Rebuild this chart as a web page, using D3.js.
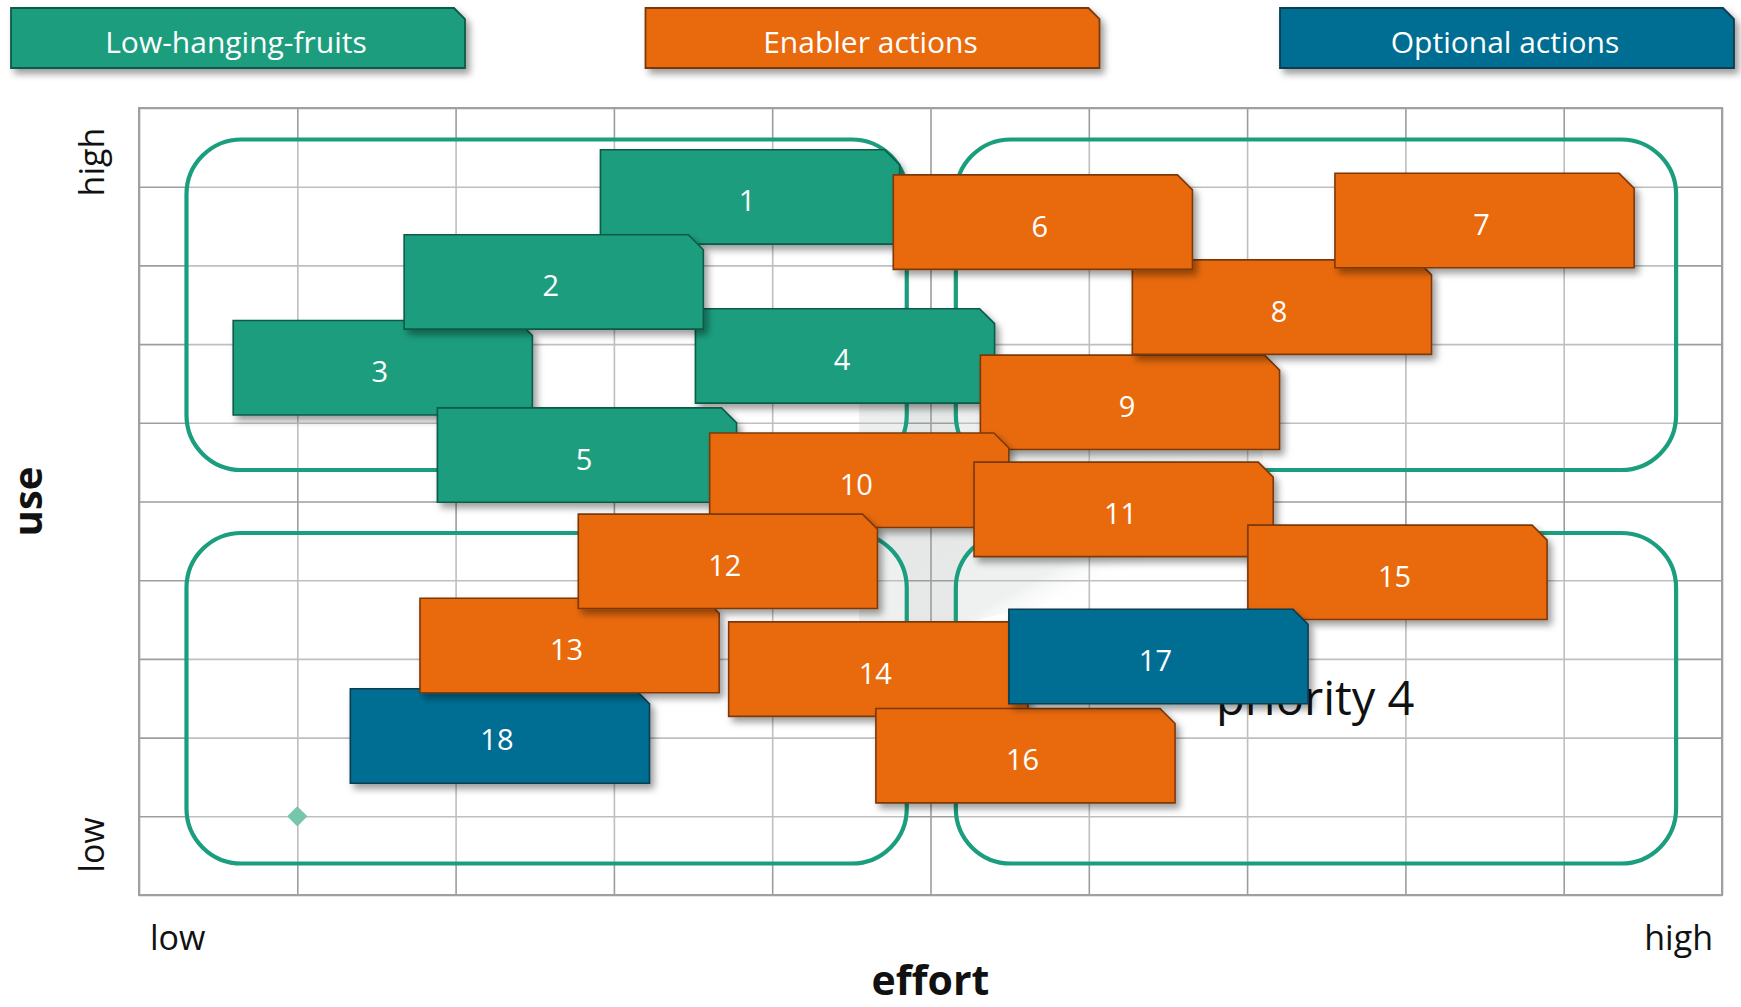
<!DOCTYPE html>
<html>
<head>
<meta charset="utf-8">
<script src="https://cdn.jsdelivr.net/npm/d3@7"></script>
<style>
  html, body { margin: 0; padding: 0; background: #ffffff; }
  svg { display: block; }
  text { font-family: "Open Sans", "Noto Sans", sans-serif; }
</style>
</head>
<body>
<svg id="chart" width="1741" height="1007"></svg>
<script>
// ---------------- data ----------------
const categories = ["Low-hanging-fruits", "Enabler actions", "Optional actions"];
const categoryColors = ["#1a9e7e", "#e96a0c", "#006e93"];
const categoryBorders = ["#0e5a47", "#7c3808", "#0a3c50"];

const actionIds = [1, 2, 3, 4, 5, 6, 7, 8, 9, 10, 11, 12, 13, 14, 15, 16, 17, 18];
const effort    = [3.86, 2.62, 1.54, 4.46, 2.83, 5.71, 8.50, 7.22, 6.26, 4.55, 6.22, 3.72, 2.72, 4.67, 7.95, 5.60, 6.44, 2.28];
const use       = [8.87, 7.79, 6.70, 6.85, 5.59, 8.55, 8.57, 7.47, 6.26, 5.27, 4.90, 4.24, 3.17, 2.87, 4.10, 1.77, 3.03, 2.02];
const actionCategory = [0, 0, 0, 0, 0, 1, 1, 1, 1, 1, 1, 1, 1, 1, 1, 1, 2, 2];
// stacking order (bottom first)
const drawOrder = [1, 3, 4, 18, 13, 14, 5, 9, 8, 6, 7, 2, 10, 11, 12, 15, 16, 17];

const xTicks = [0, 1, 2, 3, 4, 5, 6, 7, 8, 9, 10];
const yTicks = [0, 1, 2, 3, 4, 5, 6, 7, 8, 9, 10];
const axisLowHigh = ["low", "high"];
const xTitle = "effort";
const yTitle = "use";

// quadrant frames in data units
const quadX = [[0.30, 4.85], [5.16, 9.71]];
const quadY = [[0.40, 4.60], [5.40, 9.60]];
const quadLabel = "priority 4";
const quadLabelPos = [7.43, 2.5];
const markerPoint = [1, 1];

// ---------------- layout ----------------
const svg = d3.select("#chart");
const x = d3.scaleLinear().domain([0, 10]).range([139, 1722]);
const y = d3.scaleLinear().domain([0, 10]).range([895, 108]);
const boxW = 1.89, boxH = 1.2;   // box size in data units

const defs = svg.append("defs");
const f = defs.append("filter").attr("id", "shadow")
  .attr("x", "-10%").attr("y", "-10%").attr("width", "125%").attr("height", "135%");
f.append("feDropShadow").attr("dx", 4).attr("dy", 5).attr("stdDeviation", 3.5)
  .attr("flood-color", "#000").attr("flood-opacity", 0.38);

const g1 = defs.append("linearGradient").attr("id", "shade")
  .attr("x1", "0").attr("y1", "0").attr("x2", "1").attr("y2", "1");
g1.append("stop").attr("offset", "0").attr("stop-color", "#e3e7e5");
g1.append("stop").attr("offset", "0.62").attr("stop-color", "#e6e9e8");
g1.append("stop").attr("offset", "0.72").attr("stop-color", "#ffffff").attr("stop-opacity", 0);

// grey shaded background area in the middle
svg.append("path")
  .attr("d", d3.line()([
    [x(4.55), y(6.4)], [x(7.1), y(6.4)], [x(7.1), y(4.35)],
    [x(5.2), y(3.45)], [x(4.55), y(3.45)]
  ]) + "Z")
  .attr("fill", "url(#shade)");

// grid via axes
const gridX = d3.axisBottom(x).tickValues(xTicks).tickSize(-(y(0) - y(10))).tickFormat("");
const gridY = d3.axisLeft(y).tickValues(yTicks).tickSize(-(x(10) - x(0))).tickFormat("");
const gx = svg.append("g").attr("transform", `translate(0,${y(0)})`).call(gridX);
const gy = svg.append("g").attr("transform", `translate(${x(0)},0)`).call(gridY);
[gx, gy].forEach(g => {
  g.select(".domain").remove();
  g.selectAll("line").attr("stroke", "#9d9d9d").attr("stroke-width", 1.6);
});
svg.append("rect")
  .attr("x", x(0)).attr("y", y(10)).attr("width", x(10) - x(0)).attr("height", y(0) - y(10))
  .attr("fill", "none").attr("stroke", "#a0a0a0").attr("stroke-width", 2);

// quadrant frames
const quads = [];
quadX.forEach(qx => quadY.forEach(qy => quads.push({ qx, qy })));
svg.append("g").selectAll("rect").data(quads).join("rect")
  .attr("x", d => x(d.qx[0])).attr("y", d => y(d.qy[1]))
  .attr("width", d => x(d.qx[1]) - x(d.qx[0]))
  .attr("height", d => y(d.qy[0]) - y(d.qy[1]))
  .attr("rx", 55).attr("ry", 55)
  .attr("fill", "#ffffff").attr("fill-opacity", 0.35)
  .attr("stroke", "#1a9e7e").attr("stroke-width", 4.2);

// marker diamond
svg.append("path")
  .attr("d", d3.symbol().type(d3.symbolDiamond2).size(260)())
  .attr("transform", `translate(${x(markerPoint[0])},${y(markerPoint[1])})`)
  .attr("fill", "#76c5ad");

// quadrant label
svg.append("text")
  .attr("x", x(quadLabelPos[0])).attr("y", y(quadLabelPos[1]))
  .attr("dy", "0.35em").attr("text-anchor", "middle")
  .attr("font-size", 47).attr("fill", "#111").text(quadLabel);

// chamfered box path
function boxPath(x0, y0, w, h, c) {
  return `M${x0},${y0}L${x0 + w - c},${y0}L${x0 + w},${y0 + c}L${x0 + w},${y0 + h}L${x0},${y0 + h}Z`;
}

// action boxes
const actions = drawOrder.map(id => {
  const i = actionIds.indexOf(id);
  return { id, ex: effort[i], us: use[i], cat: actionCategory[i] };
});
const boxes = svg.append("g").selectAll("g").data(actions).join("g");
boxes.append("path")
  .attr("d", d => {
    const x0 = x(d.ex - boxW / 2), x1 = x(d.ex + boxW / 2);
    const y0 = y(d.us + boxH / 2), y1 = y(d.us - boxH / 2);
    return boxPath(x0, y0, x1 - x0, y1 - y0, 15);
  })
  .attr("fill", d => categoryColors[d.cat])
  .attr("stroke", d => categoryBorders[d.cat]).attr("stroke-width", 1.6)
  .attr("filter", "url(#shadow)");
boxes.append("text")
  .attr("x", d => x(d.ex) - 3).attr("y", d => y(d.us) + 4)
  .attr("dy", "0.36em").attr("text-anchor", "middle")
  .attr("font-size", 29).attr("fill", "#ffffff")
  .text(d => d.id);

// legend buttons
const legX = d3.scalePoint().domain(categories).range([11, 1280]);
const legW = 454, legTop = 8, legH = 60;
const leg = svg.append("g").selectAll("g").data(categories).join("g");
leg.append("path")
  .attr("d", d => boxPath(legX(d), legTop, legW, legH, 11))
  .attr("fill", (d, i) => categoryColors[i])
  .attr("stroke", (d, i) => categoryBorders[i]).attr("stroke-width", 1.8)
  .attr("filter", "url(#shadow)");
leg.append("text")
  .attr("x", d => legX(d) + legW / 2 - 2).attr("y", legTop + legH / 2 + 4)
  .attr("dy", "0.36em").attr("text-anchor", "middle")
  .attr("font-size", 30).attr("fill", "#ffffff").text(d => d);

// axis end labels
svg.append("text").attr("x", x(0) + 11).attr("y", 950)
  .attr("font-size", 34).attr("fill", "#111").text(axisLowHigh[0]);
svg.append("text").attr("x", x(10) - 9).attr("y", 950).attr("text-anchor", "end")
  .attr("font-size", 34).attr("fill", "#111").text(axisLowHigh[1]);
svg.append("text").attr("transform", `translate(104,${y(0) - 50}) rotate(-90)`)
  .attr("text-anchor", "middle")
  .attr("font-size", 34).attr("fill", "#111").text(axisLowHigh[0]);
svg.append("text").attr("transform", `translate(104,${y(10) + 54}) rotate(-90)`)
  .attr("text-anchor", "middle")
  .attr("font-size", 34).attr("fill", "#111").text(axisLowHigh[1]);

// axis titles
svg.append("text").attr("x", (x(0) + x(10)) / 2).attr("y", 995)
  .attr("text-anchor", "middle").attr("font-size", 41).attr("font-weight", "bold")
  .attr("fill", "#111").text(xTitle);
svg.append("text").attr("transform", `translate(42,${(y(0) + y(10)) / 2}) rotate(-90)`)
  .attr("text-anchor", "middle").attr("font-size", 40).attr("font-weight", "bold")
  .attr("fill", "#111").text(yTitle);
</script>
</body>
</html>
